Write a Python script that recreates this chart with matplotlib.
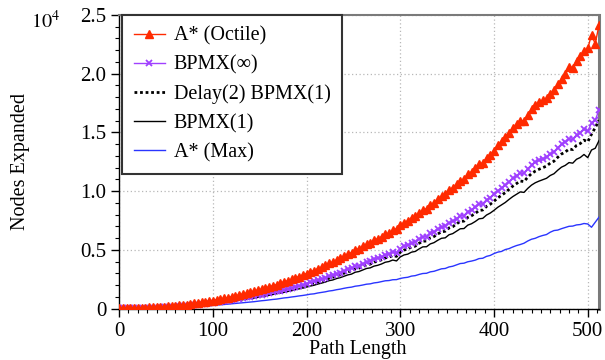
import numpy as np
import matplotlib
matplotlib.use("Agg")
import matplotlib.pyplot as plt
from matplotlib.ticker import MultipleLocator, FixedLocator

plt.rcParams['font.family'] = ['Liberation Serif', 'DejaVu Serif']
plt.rcParams['mathtext.fontset'] = 'stix'

path_length = np.arange(0, 513, 4)

astar_octile = [
    0.004, 0.004, 0.005, 0.005, 0.006, 0.006, 0.007, 0.008, 0.009, 0.010,
    0.012, 0.013, 0.015, 0.018, 0.021, 0.024, 0.027, 0.031, 0.034, 0.038,
    0.043, 0.047, 0.052, 0.057, 0.062, 0.068, 0.074, 0.080, 0.087, 0.093,
    0.100, 0.108, 0.115, 0.123, 0.131, 0.139, 0.147, 0.156, 0.165, 0.174,
    0.184, 0.194, 0.203, 0.215, 0.227, 0.236, 0.248, 0.260, 0.271, 0.285,
    0.298, 0.312, 0.323, 0.340, 0.352, 0.367, 0.384, 0.396, 0.414, 0.427,
    0.445, 0.463, 0.476, 0.498, 0.510, 0.530, 0.548, 0.560, 0.582, 0.594,
    0.612, 0.632, 0.642, 0.665, 0.680, 0.710, 0.732, 0.745, 0.772, 0.785,
    0.812, 0.838, 0.850, 0.882, 0.900, 0.930, 0.958, 0.972, 1.010, 1.030,
    1.060, 1.090, 1.100, 1.142, 1.165, 1.196, 1.230, 1.240, 1.285, 1.310,
    1.345, 1.390, 1.425, 1.460, 1.498, 1.540, 1.572, 1.600, 1.598, 1.648,
    1.700, 1.735, 1.760, 1.772, 1.790, 1.830, 1.858, 1.910, 1.952, 2.000,
    2.060, 2.052, 2.110, 2.150, 2.195, 2.215, 2.330, 2.255, 2.415]

bpmx_inf = [
    0.002, 0.002, 0.003, 0.003, 0.004, 0.004, 0.005, 0.005, 0.006, 0.007,
    0.008, 0.009, 0.011, 0.013, 0.015, 0.017, 0.019, 0.022, 0.024, 0.027,
    0.030, 0.033, 0.037, 0.040, 0.044, 0.048, 0.053, 0.057, 0.062, 0.067,
    0.072, 0.077, 0.083, 0.088, 0.094, 0.099, 0.105, 0.111, 0.118, 0.124,
    0.131, 0.138, 0.146, 0.152, 0.161, 0.169, 0.176, 0.186, 0.194, 0.201,
    0.212, 0.222, 0.230, 0.242, 0.251, 0.262, 0.275, 0.283, 0.297, 0.306,
    0.319, 0.333, 0.341, 0.359, 0.366, 0.381, 0.396, 0.402, 0.420, 0.428,
    0.441, 0.458, 0.465, 0.480, 0.472, 0.510, 0.530, 0.538, 0.558, 0.565,
    0.590, 0.610, 0.612, 0.640, 0.652, 0.675, 0.695, 0.700, 0.730, 0.742,
    0.766, 0.790, 0.792, 0.826, 0.840, 0.862, 0.888, 0.893, 0.926, 0.945,
    0.972, 1.002, 1.025, 1.050, 1.080, 1.108, 1.132, 1.155, 1.150, 1.190,
    1.222, 1.245, 1.262, 1.275, 1.290, 1.318, 1.335, 1.370, 1.400, 1.418,
    1.445, 1.440, 1.478, 1.495, 1.525, 1.510, 1.580, 1.605, 1.690]

delay2_bpmx1 = [
    0.002, 0.002, 0.003, 0.003, 0.004, 0.004, 0.005, 0.005, 0.006, 0.007,
    0.008, 0.009, 0.010, 0.012, 0.014, 0.016, 0.018, 0.021, 0.023, 0.025,
    0.028, 0.031, 0.035, 0.038, 0.041, 0.045, 0.050, 0.054, 0.058, 0.063,
    0.068, 0.072, 0.078, 0.083, 0.088, 0.093, 0.099, 0.104, 0.111, 0.117,
    0.123, 0.130, 0.137, 0.143, 0.151, 0.159, 0.165, 0.175, 0.182, 0.189,
    0.199, 0.209, 0.216, 0.227, 0.236, 0.246, 0.258, 0.266, 0.279, 0.288,
    0.300, 0.313, 0.320, 0.337, 0.344, 0.358, 0.372, 0.378, 0.395, 0.402,
    0.415, 0.431, 0.437, 0.451, 0.444, 0.479, 0.498, 0.506, 0.525, 0.531,
    0.555, 0.573, 0.575, 0.602, 0.613, 0.635, 0.653, 0.658, 0.686, 0.697,
    0.720, 0.743, 0.744, 0.776, 0.790, 0.810, 0.835, 0.839, 0.870, 0.888,
    0.914, 0.942, 0.964, 0.987, 1.015, 1.042, 1.064, 1.086, 1.081, 1.119,
    1.149, 1.170, 1.186, 1.199, 1.213, 1.239, 1.255, 1.288, 1.316, 1.333,
    1.358, 1.354, 1.389, 1.405, 1.434, 1.420, 1.485, 1.540, 1.605]

bpmx_1 = [
    0.002, 0.002, 0.002, 0.003, 0.003, 0.003, 0.004, 0.004, 0.005, 0.006,
    0.007, 0.008, 0.009, 0.011, 0.013, 0.015, 0.016, 0.019, 0.021, 0.023,
    0.026, 0.028, 0.032, 0.034, 0.038, 0.041, 0.046, 0.049, 0.053, 0.058,
    0.062, 0.066, 0.071, 0.076, 0.081, 0.085, 0.090, 0.095, 0.101, 0.107,
    0.113, 0.119, 0.126, 0.131, 0.138, 0.145, 0.151, 0.160, 0.167, 0.173,
    0.182, 0.191, 0.198, 0.208, 0.216, 0.225, 0.237, 0.243, 0.255, 0.263,
    0.274, 0.286, 0.293, 0.309, 0.315, 0.328, 0.341, 0.346, 0.361, 0.368,
    0.379, 0.394, 0.400, 0.413, 0.405, 0.439, 0.456, 0.463, 0.480, 0.486,
    0.507, 0.525, 0.526, 0.550, 0.561, 0.581, 0.598, 0.602, 0.628, 0.638,
    0.659, 0.679, 0.681, 0.710, 0.722, 0.741, 0.764, 0.768, 0.796, 0.813,
    0.836, 0.862, 0.882, 0.903, 0.929, 0.953, 0.973, 0.993, 0.989, 1.023,
    1.051, 1.071, 1.085, 1.097, 1.109, 1.133, 1.148, 1.178, 1.204, 1.219,
    1.243, 1.238, 1.271, 1.286, 1.312, 1.285, 1.350, 1.365, 1.430]

astar_max = [
    0.001, 0.001, 0.001, 0.001, 0.002, 0.002, 0.002, 0.003, 0.003, 0.004,
    0.004, 0.005, 0.006, 0.007, 0.008, 0.009, 0.010, 0.011, 0.013, 0.014,
    0.016, 0.018, 0.020, 0.022, 0.024, 0.027, 0.029, 0.032, 0.034, 0.037,
    0.040, 0.043, 0.046, 0.049, 0.052, 0.055, 0.058, 0.062, 0.066, 0.069,
    0.073, 0.077, 0.080, 0.085, 0.090, 0.093, 0.098, 0.102, 0.107, 0.111,
    0.116, 0.122, 0.125, 0.132, 0.137, 0.142, 0.149, 0.153, 0.160, 0.165,
    0.172, 0.178, 0.182, 0.190, 0.194, 0.200, 0.207, 0.210, 0.218, 0.222,
    0.229, 0.236, 0.238, 0.245, 0.246, 0.256, 0.262, 0.266, 0.276, 0.280,
    0.290, 0.298, 0.300, 0.312, 0.317, 0.328, 0.338, 0.341, 0.354, 0.360,
    0.372, 0.383, 0.386, 0.398, 0.404, 0.412, 0.425, 0.428, 0.444, 0.452,
    0.468, 0.480, 0.486, 0.502, 0.510, 0.524, 0.536, 0.545, 0.556, 0.575,
    0.590, 0.598, 0.612, 0.622, 0.630, 0.650, 0.664, 0.668, 0.680, 0.690,
    0.700, 0.702, 0.712, 0.715, 0.724, 0.720, 0.692, 0.735, 0.778]

series_labels = ["A* (Octile)", "BPMX(\u221e)", "Delay(2) BPMX(1)", "BPMX(1)", "A* (Max)"]
x_ticks = [0, 100, 200, 300, 400, 500]
y_ticks = [0, 0.5, 1.0, 1.5, 2.0, 2.5]
y_tick_labels = ["0", "0.5", "1.0", "1.5", "2.0", "2.5"]

FS = 14.5
W, H = 605, 360
fig = plt.figure(figsize=(W / 100, H / 100), dpi=100)
ax = fig.add_axes([119 / W, 1 - 308.5 / H, (599 - 119) / W, (308.5 - 15) / H])

h_max, = ax.plot(path_length, astar_max, color='#2a35ff', lw=1.0, zorder=3)
h_b1, = ax.plot(path_length, bpmx_1, color='black', lw=1.0, zorder=4)
h_d, = ax.plot(path_length, delay2_bpmx1, color='black', lw=2.0,
               linestyle=(0, (1, 1)), zorder=5)
h_inf, = ax.plot(path_length, bpmx_inf, color='#a040ff', lw=1.0, marker='x',
                 markersize=5, markeredgewidth=1.3, zorder=6)
h_oct, = ax.plot(path_length, astar_octile, color='#ff2a00', lw=1.0, marker='^',
                 markersize=6, zorder=7)

ax.set_xlim(0, 512)
ax.set_ylim(0, 2.5)
ax.xaxis.set_major_locator(FixedLocator(x_ticks))
ax.xaxis.set_minor_locator(MultipleLocator(10))
ax.yaxis.set_major_locator(FixedLocator(y_ticks))
ax.set_yticklabels(y_tick_labels)
ax.yaxis.set_minor_locator(MultipleLocator(0.1))

ax.tick_params(axis='both', which='major', direction='out', length=6, width=1,
               labelsize=15, colors='black')
ax.tick_params(axis='x', which='major', pad=3.5)
ax.tick_params(axis='y', which='major', pad=3)
ax.tick_params(axis='both', which='minor', direction='out', length=3, width=0.8)

ax.grid(True, which='major', color='#b8b8b8', linestyle=(0, (1, 2)), lw=0.9)
ax.set_axisbelow(True)

for s in ['left', 'bottom']:
    ax.spines[s].set_color('black')
    ax.spines[s].set_linewidth(1.0)
ax.spines['top'].set_color('#7a7a7a')
ax.spines['top'].set_linewidth(1.5)
ax.spines['right'].set_color('#7a7a7a')
ax.spines['right'].set_linewidth(2.2)

leg = ax.legend([h_oct, h_inf, h_d, h_b1, h_max], series_labels,
                loc='upper left', bbox_to_anchor=(0.006, 1.0), borderaxespad=0,
                fontsize=FS, fancybox=False, framealpha=1, edgecolor='#333333',
                handlelength=1.55, handletextpad=0.45, labelspacing=0.48,
                borderpad=0.58)
leg.get_frame().set_linewidth(1.5)

fig.text(358 / W, 6 / H, "Path Length", ha='center', va='baseline', fontsize=FS)
fig.text(21 / W, 1 - 162 / H, "Nodes Expanded", ha='center', va='center',
         rotation=90, fontsize=FS)
fig.text(31 / W, 1 - 28 / H, r"$10^4$", ha='left', va='baseline', fontsize=FS)

fig.savefig("out.png", dpi=100)
